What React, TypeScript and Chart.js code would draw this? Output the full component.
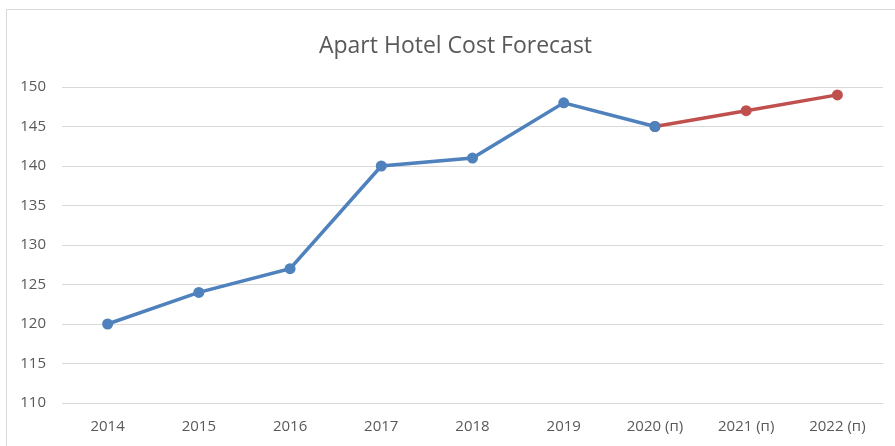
import React, { useEffect, useRef } from "react";
import { Chart, registerables } from "chart.js";

Chart.register(...registerables);

const categories = ["2014", "2015", "2016", "2017", "2018", "2019", "2020 (п)", "2021 (п)", "2022 (п)"];
const actualValues = [120, 124, 127, 140, 141, 148, 145, null, null];
const forecastValues = [null, null, null, null, null, null, 145, 147, 149];
const yMin = 110;
const yMax = 150;
const yStep = 5;
const titleText = "Apart Hotel Cost Forecast";

const FONT = "'Open Sans', 'Noto Sans', sans-serif";
const TEXT = "#595959";

const titlePlugin = {
  id: "frameTitle",
  afterDraw(chart: any) {
    const ctx = chart.ctx;
    ctx.save();
    ctx.font = `normal 23px ${FONT}`;
    ctx.fillStyle = TEXT;
    ctx.textAlign = "center";
    ctx.textBaseline = "middle";
    ctx.fillText(titleText, chart.width / 2 + 8, 46);
    ctx.restore();
  },
};

export default function App() {
  const ref = useRef<HTMLCanvasElement>(null);

  useEffect(() => {
    if (!ref.current) return;
    const chart = new Chart(ref.current, {
      type: "line",
      data: {
        labels: categories,
        datasets: [
          {
            label: "Actual",
            data: actualValues,
            borderColor: "#4f81bd",
            backgroundColor: "#4f81bd",
            borderWidth: 3.5,
            pointRadius: 5.5,
            pointBorderWidth: 0,
            pointBackgroundColor: "#4f81bd",
            tension: 0,
            spanGaps: false,
          },
          {
            label: "Forecast",
            data: forecastValues,
            borderColor: "#c0504d",
            backgroundColor: "#c0504d",
            borderWidth: 3.5,
            pointRadius: 5.5,
            pointBorderWidth: 0,
            pointBackgroundColor: "#c0504d",
            tension: 0,
            spanGaps: false,
          },
        ],
      },
      options: {
        animation: false,
        responsive: false,
        maintainAspectRatio: false,
        layout: { padding: { left: 0, right: 12, top: 87, bottom: 0 } },
        plugins: {
          legend: { display: false },
          tooltip: { enabled: false },
          title: { display: false },
        },
        scales: {
          x: {
            offset: true,
            grid: { display: false, drawTicks: false },
            border: { display: false },
            ticks: {
              color: TEXT,
              font: { family: FONT, size: 15 },
              padding: 15,
              maxRotation: 0,
              autoSkip: false,
            },
            afterFit: (s: any) => {
              s.height = 43;
            },
          },
          y: {
            min: yMin,
            max: yMax,
            grid: { color: "#d9d9d9", lineWidth: 1, drawTicks: false },
            border: { display: false },
            ticks: {
              stepSize: yStep,
              color: TEXT,
              font: { family: FONT, size: 15 },
              padding: 16,
            },
            afterFit: (s: any) => {
              s.width = 62;
            },
          },
        },
      },
      plugins: [titlePlugin],
    });
    return () => chart.destroy();
  }, []);

  return (
    <div style={{ position: "fixed", left: 0, top: 0, width: 895, height: 446, overflow: "hidden", background: "#fff" }}>
      <div
        style={{
          position: "absolute",
          left: 6,
          top: 9,
          width: 920,
          height: 460,
          border: "1px solid #d9d9d9",
          boxSizing: "border-box",
        }}
      />
      <canvas ref={ref} width={895} height={446} style={{ position: "absolute", left: 0, top: 0 }} />
    </div>
  );
}
